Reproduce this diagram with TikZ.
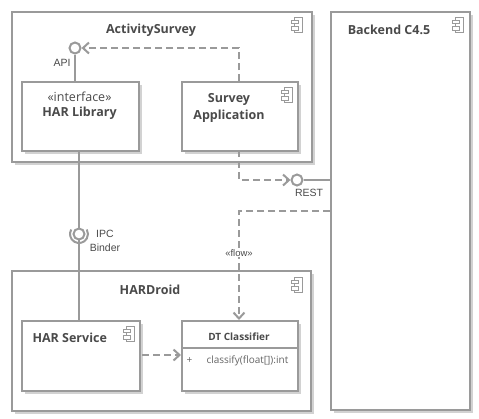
\documentclass[tikz,border=0pt]{standalone}
\usepackage{fontspec}
\setmainfont{Open Sans}
\newfontfamily\labelfont{Liberation Sans}
\usetikzlibrary{arrows.meta,shadows}
\definecolor{linegray}{HTML}{9A9A9A}
\definecolor{shadowgray}{HTML}{D2D2D2}
\definecolor{txtgray}{HTML}{4A4A4A}
\tikzset{
  box/.style={draw=linegray, line width=2pt, fill=white, anchor=north west, inner sep=0pt,
    drop shadow={shadow xshift=2.5pt, shadow yshift=-2.5pt, fill=shadowgray, opacity=1}},
  ttl/.style={font=\bfseries\fontsize{12.5}{15}\selectfont, text=txtgray, align=center},
  lbl/.style={font=\labelfont\fontsize{10.5}{12}\selectfont, text=txtgray},
  small/.style={font=\fontsize{10}{12}\selectfont, text=txtgray!85},
  conn/.style={draw=linegray, line width=2pt},
  dep/.style={draw=linegray, line width=2pt, dash pattern=on 7pt off 4pt, -{Straight Barb[length=6pt,width=11pt,line width=2pt]}},
  lolli/.style={draw=linegray, line width=2pt, fill=white, circle, minimum size=11pt, inner sep=0pt},
  compicon/.pic={
    \draw[draw=linegray, line width=1pt, fill=white] (-4,-7.5) rectangle (4,7.5);
    \draw[draw=linegray, line width=1pt, fill=white] (-7,-5) rectangle (0,-1.5);
    \draw[draw=linegray, line width=1pt, fill=white] (-7,1.5) rectangle (0,5);
  }
}
\begin{document}
\begin{tikzpicture}[x=1pt,y=-1pt]
\useasboundingbox (0,0) rectangle (479,418);
% outer containers
\node[box, minimum width=300pt, minimum height=150pt] (as) at (11,11) {};
\node[box, minimum width=299pt, minimum height=140pt] (hd) at (11,270) {};
\node[box, minimum width=139pt, minimum height=398pt] (be) at (330,11) {};
\node[ttl] (asT) at (151,30) {ActivitySurvey};
\node[ttl] (hdT) at (150,290) {HARDroid};
\node[ttl] (beT) at (389,30) {Backend C4.5};
\pic at (298,25) {compicon};
\pic at (298,285) {compicon};
\pic at (459,25) {compicon};
% inner boxes
\node[box, minimum width=117pt, minimum height=69pt] (hl) at (21,81) {};
\node[box, minimum width=116pt, minimum height=69pt] (sa) at (181,81) {};
\node[box, minimum width=118pt, minimum height=70pt] (hs) at (21,320) {};
\node[box, minimum width=116pt, minimum height=70pt] (dt) at (181,320) {};
\node[ttl, font=\fontsize{12.5}{15}\selectfont] (hlS) at (79.5,97) {«interface»};
\node[ttl] (hlT) at (79.5,113) {HAR Library};
\node[ttl, font=\bfseries\fontsize{12.5}{17}\selectfont] (saT) at (229,108) {Survey\\Application};
\node[ttl, anchor=west] (hsT) at (29,338) {HAR Service};
\node[ttl, font=\bfseries\fontsize{10}{12}\selectfont] (dtT) at (239,337) {DT Classifier};
\draw[linegray, line width=1.5pt] (dt.west |- 0,348) -- (dt.east |- 0,348);
\node[small, anchor=west] (dtP) at (183,361) {+};
\node[small, anchor=west] (dtM) at (203,361) {classify(float[]):int};
\pic at (288,95) {compicon};
\pic at (130,334) {compicon};
% API interface
\node[lolli] (api) at (75,48) {};
\coordinate (hlTop) at (75,81);
\draw[conn] (api.south) -- (hlTop);
\node[lbl] (apiL) at (62,63) {API};
\coordinate (saTop) at (239,81);
\draw[dep] (saTop) |- (api.east);
% REST interface
\node[lolli] (rest) at (297,180) {};
\coordinate (beRest) at (330,180);
\draw[conn] (rest.east) -- (beRest);
\node[lbl] (restL) at (309,193) {REST};
\coordinate (saBot) at (239,150);
\draw[dep] (saBot) |- (rest.west);
% flow
\coordinate (beFlow) at (330,211);
\coordinate (dtTop) at (239,320);
\draw[dep] (beFlow) -| (dtTop);
\node[lbl, font=\labelfont\fontsize{9.5}{11}\selectfont, fill=white, inner sep=1pt] (flowL) at (239,253) {«flow»};
% IPC binder
\coordinate (hlBot) at (79,150);
\coordinate (hsTop) at (79,320);
\draw[conn] (hlBot) -- (hsTop);
\node[lolli] (ipc) at (79,234) {};
\draw[linegray, line width=2pt] ([shift={(210:9)}]ipc.center) arc[start angle=210, end angle=-30, radius=9] ;
\node[lbl] (ipcL) at (105,234) {IPC};
\node[lbl] (ipcB) at (105,248) {Binder};
% HAR service to DT
\coordinate (hsR) at (142,355);
\coordinate (dtL) at (181,355);
\draw[dep] (hsR) -- (dtL);
\end{tikzpicture}
\end{document}
